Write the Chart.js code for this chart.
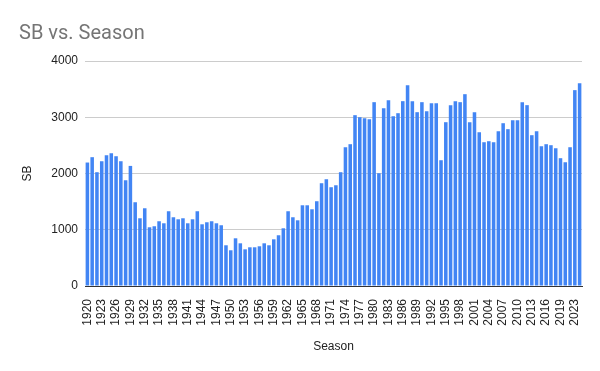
<!DOCTYPE html>
<html>
<head>
<meta charset="utf-8">
<script src="https://cdn.jsdelivr.net/npm/chart.js@4.4.1/dist/chart.umd.min.js"></script>
<style>
  html, body { margin: 0; padding: 0; background: #fff; }
  #wrap { width: 600px; height: 371px; }
</style>
</head>
<body>
<div id="wrap"><canvas id="c" width="600" height="371"></canvas></div>
<script>
const seasons = [
  "1920","1921","1922","1923","1924","1925","1926","1927","1928","1929",
  "1930","1931","1932","1933","1934","1935","1936","1937","1938","1939",
  "1940","1941","1942","1943","1944","1945","1946","1947","1948","1949",
  "1950","1951","1952","1953","1954","1955","1956","1957","1958","1959",
  "1960","1961","1962","1963","1964","1965","1966","1967","1968","1969",
  "1970","1971","1972","1973","1974","1975","1976","1977","1978","1979",
  "1980","1981","1982","1983","1984","1985","1986","1987","1988","1989",
  "1990","1991","1992","1993","1994","1995","1996","1997","1998","1999",
  "2000","2001","2002","2003","2004","2005","2006","2007","2008","2009",
  "2010","2011","2012","2013","2014","2015","2016","2017","2018","2019",
  "2021","2022","2023","2024"
];
const sb = [
  2195,2290,2023,2218,2325,2361,2307,2218,1880,2135,
  1489,1204,1382,1044,1062,1151,1115,1329,1222,1186,
  1204,1115,1186,1329,1097,1133,1151,1115,1080,724,
  635,848,759,652,688,688,706,759,724,830,
  902,1026,1329,1222,1168,1435,1435,1364,1507,1827,
  1898,1756,1791,2023,2467,2521,3037,3001,2983,2966,
  3268,2005,3161,3304,3019,3072,3286,3571,3286,3090,
  3268,3108,3250,3250,2236,2912,3215,3286,3268,3410,
  2912,3090,2734,2556,2574,2556,2752,2894,2788,2948,
  2948,3268,3215,2681,2752,2485,2521,2503,2450,2272,
  2200,2467,3482,3606
];
const yTicks = [0, 1000, 2000, 3000, 4000];

const axisFont = { family: "'Liberation Sans', Arial, sans-serif", size: 12 };

new Chart(document.getElementById('c'), {
  type: 'bar',
  data: {
    labels: seasons,
    datasets: [{
      label: 'SB',
      data: sb,
      backgroundColor: '#4285F4',
      borderWidth: 0,
      barPercentage: 0.74,
      categoryPercentage: 1.0
    }]
  },
  options: {
    responsive: false,
    animation: false,
    devicePixelRatio: 1,
    layout: { padding: { left: 19, right: 18, top: 0, bottom: 0 } },
    plugins: {
      legend: { display: false },
      tooltip: { enabled: false },
      title: {
        display: true,
        text: 'SB vs. Season',
        align: 'start',
        color: '#757575',
        font: { family: "Roboto, 'Noto Sans', sans-serif", size: 20, weight: 'normal' },
        padding: { top: 22, bottom: 15 }
      }
    },
    scales: {
      x: {
        grid: { display: false },
        border: { display: true, color: '#333333', width: 1 },
        ticks: {
          autoSkip: false,
          maxRotation: 90,
          minRotation: 90,
          padding: 5,
          color: '#222222',
          font: axisFont,
          callback: function(v, i) { return i % 3 === 0 ? this.getLabelForValue(v) : ''; }
        },
        title: {
          display: true,
          text: 'Season',
          color: '#222222',
          font: axisFont,
          padding: { top: 4, bottom: 17 }
        },
        afterFit: s => { s.height = 85; }
      },
      y: {
        min: 0,
        max: 4000,
        afterBuildTicks: s => { s.ticks = yTicks.map(v => ({ value: v })); },
        grid: { color: '#cccccc', drawTicks: false },
        border: { display: false },
        ticks: { padding: 7, color: '#222222', font: axisFont, callback: v => String(v) },
        title: {
          display: true,
          text: 'SB',
          color: '#222222',
          font: axisFont,
          padding: { top: 1, bottom: 4 }
        },
        afterFit: s => { s.width = 66; }
      }
    }
  }
});
</script>
</body>
</html>
